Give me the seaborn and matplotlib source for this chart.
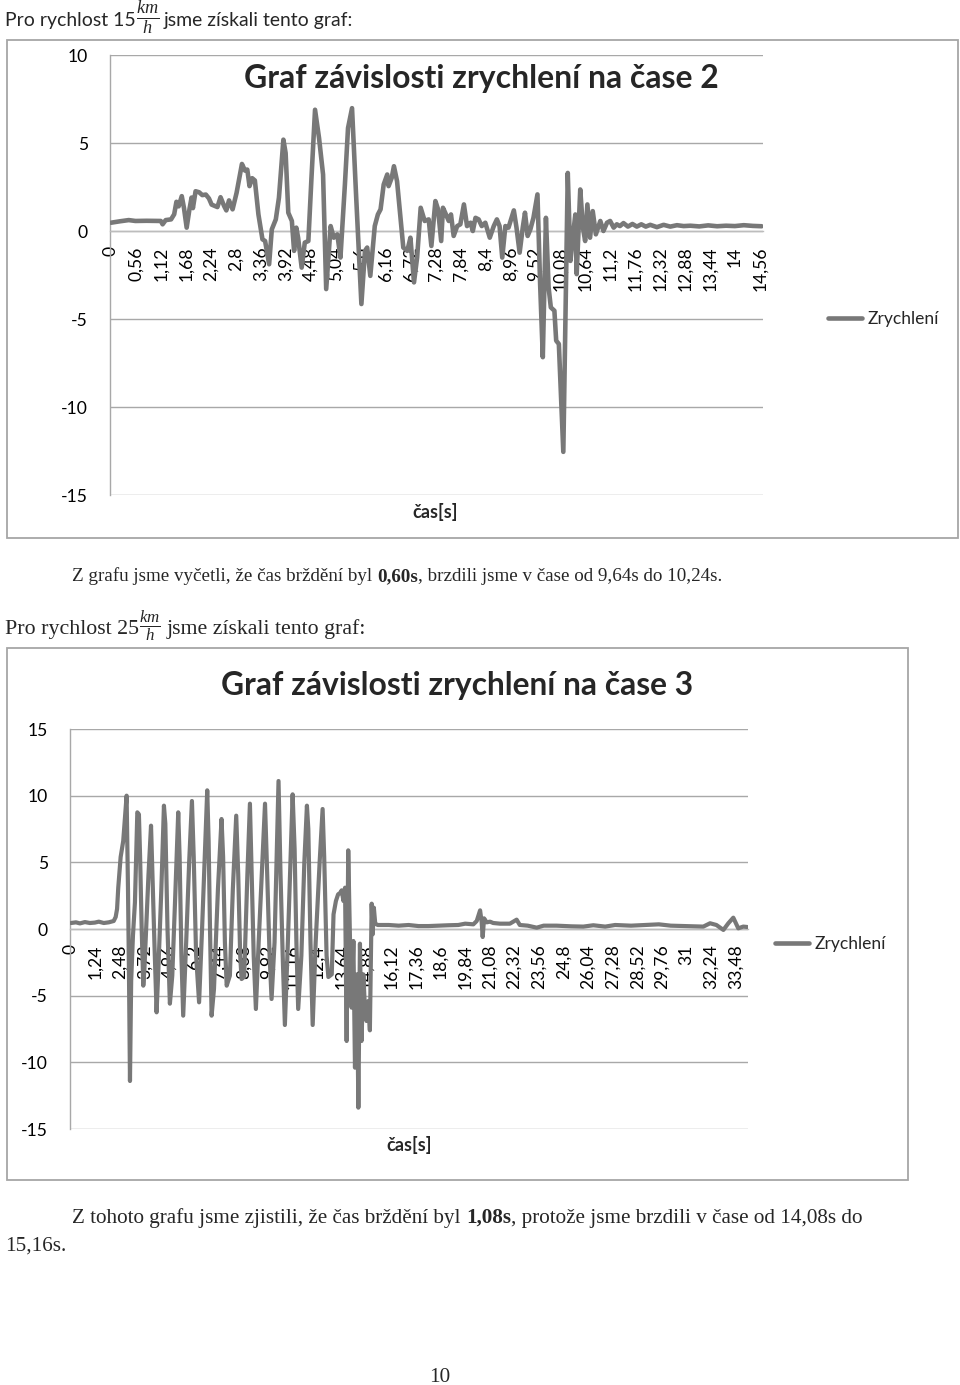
import matplotlib
matplotlib.use("Agg")
import numpy as np
import pandas as pd
import seaborn as sns
import matplotlib.pyplot as plt
from matplotlib.ticker import MultipleLocator, FixedLocator, FixedFormatter
from matplotlib.patches import Rectangle
from matplotlib.lines import Line2D

# ---------------- data: chart 1 (15 km/h) ----------------
time1 = [0.00, 0.20, 0.40, 0.55, 0.80, 1.00, 1.12, 1.16, 1.23, 1.35, 1.42, 1.47, 1.52, 1.59, 1.64,
         1.70, 1.76, 1.81, 1.84, 1.90, 1.98, 2.05, 2.13, 2.20, 2.26, 2.39, 2.46, 2.54, 2.59, 2.65,
         2.73, 2.82, 2.94, 3.01, 3.06, 3.11, 3.17, 3.23, 3.31, 3.40, 3.46, 3.55, 3.61, 3.70, 3.77,
         3.87, 3.92, 3.98, 4.06, 4.11, 4.16, 4.20, 4.28, 4.35, 4.43, 4.50, 4.58, 4.67, 4.76, 4.83,
         4.93, 5.00, 5.08, 5.15, 5.25, 5.32, 5.41, 5.50, 5.62, 5.70, 5.75, 5.82, 5.92, 5.99, 6.05,
         6.12, 6.20, 6.23, 6.30, 6.35, 6.42, 6.50, 6.56, 6.65, 6.72, 6.80, 6.87, 6.95, 7.04, 7.13,
         7.19, 7.28, 7.34, 7.41, 7.45, 7.50, 7.58, 7.63, 7.69, 7.77, 7.84, 7.92, 7.99, 8.07, 8.12,
         8.18, 8.25, 8.32, 8.40, 8.50, 8.59, 8.66, 8.72, 8.78, 8.85, 8.92, 8.99, 9.04, 9.10, 9.17,
         9.24, 9.29, 9.35, 9.41, 9.48, 9.57, 9.63, 9.69, 9.76, 9.82, 9.87, 9.95, 9.99, 10.05, 10.15,
         10.25, 10.31, 10.37, 10.42, 10.45, 10.53, 10.59, 10.64, 10.69, 10.75, 10.81, 10.88, 10.98,
         11.05, 11.13, 11.20, 11.28, 11.35, 11.42, 11.50, 11.60, 11.70, 11.80, 11.90, 12.00, 12.10,
         12.25, 12.40, 12.55, 12.70, 12.85, 13.00, 13.20, 13.40, 13.60, 13.80, 14.00, 14.20, 14.40,
         14.60]
accel1 = [0.47, 0.55, 0.62, 0.57, 0.58, 0.57, 0.57, 0.38, 0.62, 0.66, 0.95, 1.66, 1.40, 1.98, 1.30,
          0.19, 1.20, 1.90, 1.30, 2.26, 2.20, 2.04, 2.07, 1.85, 1.50, 1.36, 1.92, 1.42, 1.17, 1.74,
          1.23, 2.17, 3.81, 3.43, 3.49, 2.55, 3.00, 2.87, 0.94, -0.47, -0.57, -1.89, 0.09, 0.66, 1.89,
          5.19, 4.43, 1.04, 0.57, -1.13, 0.19, -0.38, -2.08, -0.66, -0.57, 3.02, 6.89, 5.28, 3.21, -3.30,
          0.28, -0.38, -0.19, -1.51, 2.64, 5.85, 6.98, 2.08, -4.15, -1.13, -0.94, -2.55, 0.28, 0.94, 1.23,
          2.64, 3.21, 2.55, 3.02, 3.68, 2.83, 0.66, -0.94, -1.13, -0.38, -2.92, -1.51, 1.32, 0.57, 0.66,
          -0.85, 1.70, 1.23, -0.57, 1.32, 1.04, 0.57, 0.94, -0.28, 0.28, 0.38, 1.51, 0.28, 0.47, 0.00,
          0.75, 0.66, 0.28, 0.47, -0.38, 0.28, 0.66, 0.28, -1.51, 0.28, 0.19, 0.75, 1.17, 0.19, -1.23,
          0.19, 1.04, -0.28, 0.09, 0.75, 2.08, -3.02, -7.17, 0.75, -3.21, -4.34, -4.53, -6.23, -6.42, -12.55,
          3.30, -1.70, -0.19, 0.94, -2.45, 2.36, 0.19, -0.57, 1.51, -0.38, 1.13, -0.19, 0.57,
          0.00, 0.47, 0.57, 0.19, 0.38, 0.28, 0.45, 0.25, 0.40, 0.25, 0.38, 0.25, 0.35,
          0.22, 0.35, 0.25, 0.33, 0.28, 0.30, 0.26, 0.32, 0.27, 0.30, 0.28, 0.33, 0.29,
          0.27]
xlabels1 = ["0", "0,56", "1,12", "1,68", "2,24", "2,8", "3,36", "3,92", "4,48", "5,04", "5,6",
            "6,16", "6,72", "7,28", "7,84", "8,4", "8,96", "9,52", "10,08", "10,64", "11,2",
            "11,76", "12,32", "12,88", "13,44", "14", "14,56"]
yticks1 = [-15, -10, -5, 0, 5, 10]

# ---------------- data: chart 2 (25 km/h) ----------------
time2 = [0.00, 0.25, 0.45, 0.70, 0.95, 1.20, 1.40, 1.65, 1.90, 2.15, 2.25, 2.32, 2.38, 2.50, 2.63,
         2.80, 2.87, 2.92, 2.97, 3.03, 3.12, 3.22, 3.34, 3.42, 3.48, 3.56, 3.64, 3.70, 3.80, 3.90,
         4.03, 4.10, 4.20, 4.31, 4.40, 4.55, 4.68, 4.75, 4.86, 4.98, 5.10, 5.25, 5.40, 5.47, 5.56,
         5.65, 5.80, 5.95, 6.09, 6.18, 6.30, 6.45, 6.60, 6.75, 6.86, 6.93, 7.00, 7.08, 7.20, 7.40,
         7.58, 7.66, 7.75, 7.84, 8.00, 8.15, 8.32, 8.42, 8.52, 8.59, 8.72, 8.88, 9.01, 9.10, 9.20,
         9.31, 9.45, 9.62, 9.77, 9.88, 10.00, 10.10, 10.25, 10.34, 10.45, 10.55, 10.66, 10.77, 10.92,
         11.05, 11.16, 11.26, 11.35, 11.44, 11.60, 11.75, 11.88, 11.95, 12.06, 12.17, 12.32, 12.52,
         12.67, 12.75, 12.87, 12.96, 13.13, 13.22, 13.34, 13.45, 13.55, 13.63, 13.72, 13.80, 13.88,
         13.96, 14.05, 14.13, 14.22, 14.30, 14.40, 14.47, 14.55, 14.63, 14.72, 14.80, 14.88, 14.97,
         15.05, 15.14, 15.19, 15.25, 15.32, 15.45, 16.00, 16.50, 17.00, 17.50, 18.00, 18.50, 19.00,
         19.50, 19.85, 20.26, 20.43, 20.60, 20.68, 20.73, 20.80, 20.93, 21.10, 21.26, 21.60, 22.10,
         22.44, 22.60, 23.00, 23.45, 23.80, 24.45, 25.20, 25.80, 26.30, 26.90, 27.40, 28.20, 28.90,
         29.60, 30.20, 30.90, 31.84, 32.18, 32.50, 32.85, 33.10, 33.35, 33.60, 33.85, 34.05]
accel2 = [0.45, 0.50, 0.42, 0.52, 0.45, 0.48, 0.55, 0.45, 0.50, 0.60, 0.90, 1.50, 3.10, 5.40, 6.60,
          10.00, 3.00, -3.40, -11.40, -3.90, -0.50, 2.00, 8.75, 8.60, 5.40, 0.00, -4.25, -2.90, 0.50, 4.00,
          7.75, 4.10, -1.00, -6.25, -3.00, 3.00, 9.25, 7.90, 0.00, -5.60, -3.50, 2.50, 8.75, 5.40, -2.00,
          -6.50, -1.00, 5.00, 9.60, 5.40, -2.00, -5.50, 0.00, 6.00, 10.40, 6.60, 0.00, -6.50, -4.50, 3.00,
          8.25, 5.40, -1.00, -4.25, -3.50, 3.00, 8.50, 4.10, -2.00, -3.75, -3.60, 4.00, 9.40, 4.10, -2.00,
          -6.00, -1.00, 4.50, 9.40, 4.10, -2.00, -5.25, -1.00, 4.50, 11.10, 4.10, -2.00, -7.20, -1.00,
          5.00, 10.10, 6.00, -1.00, -6.00, -2.00, 5.00, 9.25, 7.50, -1.00, -7.20, -1.00, 5.00,
          9.00, 5.40, -2.00, -3.60, -3.40, 1.10, 2.10, 2.60, 2.70, 2.90, 2.10, 3.10, -8.40,
          5.90, -0.90, -5.90, -0.90, -10.40, -3.40, -13.40, -1.10, -8.40, -3.40, -5.90, -6.90, -5.40,
          -7.60, 1.90, -0.40, 1.60, 0.40, 0.30, 0.30, 0.25, 0.30, 0.22, 0.22, 0.25, 0.28,
          0.30, 0.40, 0.35, 0.60, 1.40, 0.50, -0.60, 0.80, 0.50, 0.55, 0.45, 0.40, 0.40,
          0.70, 0.30, 0.25, 0.10, 0.25, 0.25, 0.20, 0.18, 0.28, 0.18, 0.30, 0.25, 0.30,
          0.35, 0.25, 0.22, 0.18, 0.43, 0.30, -0.07, 0.43, 0.85, 0.05, 0.18, 0.15]
xlabels2 = ["0", "1,24", "2,48", "3,72", "4,96", "6,2", "7,44", "8,68", "9,92", "11,16", "12,4",
            "13,64", "14,88", "16,12", "17,36", "18,6", "19,84", "21,08", "22,32", "23,56", "24,8",
            "26,04", "27,28", "28,52", "29,76", "31", "32,24", "33,48"]
yticks2 = [-15, -10, -5, 0, 5, 10, 15]

series_name = "Zrychlení"
title1 = "Graf závislosti zrychlení na čase 2"
title2 = "Graf závislosti zrychlení na čase 3"
xlabel = "čas[s]"

# ---------------- style ----------------
sns.set_style("white")
plt.rcParams["font.family"] = ["Lato", "DejaVu Sans"]
plt.rcParams["mathtext.fontset"] = "custom"
plt.rcParams["mathtext.it"] = "Liberation Serif:italic"
plt.rcParams["mathtext.rm"] = "Liberation Serif"
plt.rcParams["mathtext.bf"] = "Liberation Serif:bold"

LINE_C = "#787878"
GRID_C = "#a8a8a8"
BAND_C = "#bdbdbd"
W, H = 960, 1385
fig = plt.figure(figsize=(W / 100, H / 100), dpi=100)
fig.patch.set_facecolor("white")
R = fig.canvas.get_renderer()
SERIF = {"family": ["Liberation Serif", "DejaVu Serif"]}


def ax_at(l, t, r, b):
    return fig.add_axes([l / W, 1 - b / H, (r - l) / W, (b - t) / H])


def line_text(pieces, x, y, size, target=None, align="left"):
    """pieces: (text, props, space_before[, size factor]). x,y px from top-left; y = baseline."""
    def make(sz):
        objs, gaps = [], []
        for pc in pieces:
            s, p, sp = pc[:3]
            f = pc[3] if len(pc) > 3 else 1.0
            o = fig.text(0, 0, s, fontsize=sz * f, va="baseline", ha="left", **p)
            objs.append(o)
            g = 0
            if sp:
                a = fig.text(0, 0, "x x", fontsize=sz, **p)
                b = fig.text(0, 0, "xx", fontsize=sz, **p)
                g = a.get_window_extent(R).width - b.get_window_extent(R).width
                a.remove(); b.remove()
            gaps.append(g)
        ws = [o.get_window_extent(R).width for o in objs]
        return objs, gaps, ws
    objs, gaps, ws = make(size)
    if target:
        tot = sum(ws) + sum(gaps)
        for o in objs:
            o.remove()
        size = size * target / tot
        objs, gaps, ws = make(size)
    tot = sum(ws) + sum(gaps)
    cx = x if align == "left" else x - tot / 2
    for o, g, w in zip(objs, gaps, ws):
        cx += g
        o.set_position((cx / W, 1 - y / H))
        cx += w
    return size


def frame(l, t, r, b):
    fig.add_artist(Rectangle((l / W, 1 - b / H), (r - l) / W, (b - t) / H,
                             transform=fig.transFigure, fill=False,
                             ec="#a6a6a6", lw=1.3))


def style_chart(ax, labels, yt, xlim):
    ax.set_xlim(*xlim)
    ax.set_ylim(yt[0], yt[-1])
    pos = [float(s.replace(",", ".")) for s in labels]
    ax.xaxis.set_major_locator(FixedLocator(pos))
    ax.xaxis.set_major_formatter(FixedFormatter(labels))
    ax.xaxis.set_minor_locator(MultipleLocator(0.04))
    ax.set_yticks(yt)
    ax.set_yticklabels([str(v) for v in yt])
    for s in ["top", "right"]:
        ax.spines[s].set_visible(False)
    ax.spines["left"].set_color(GRID_C)
    ax.spines["left"].set_linewidth(1.0)
    ax.spines["bottom"].set_position(("data", 0))
    ax.spines["bottom"].set_color(BAND_C)
    ax.spines["bottom"].set_linewidth(1.0)
    ax.tick_params(axis="x", which="both", direction="out", length=6, width=0.7,
                   color=BAND_C)
    ax.tick_params(axis="x", which="major", labelsize=12.6, labelrotation=90, pad=5,
                   labelcolor="black")
    ax.tick_params(axis="y", which="major", direction="out", length=7, width=1,
                   color=GRID_C, labelsize=12.6, pad=9, labelcolor="black")
    ax.yaxis.grid(True, color=GRID_C, lw=1.0)
    ax.xaxis.grid(False)
    ax.set_axisbelow(True)
    ax.set_xlabel("")
    ax.set_ylabel("")
    ax.patch.set_alpha(0)


def legend(ax, x, y):
    h = Line2D([], [], color=LINE_C, lw=3.3)
    ax.legend(handles=[h], labels=[series_name], loc="center left",
              bbox_to_anchor=(x / W, 1 - y / H), bbox_transform=fig.transFigure,
              frameon=False, borderpad=0, borderaxespad=0, fontsize=12.6,
              handlelength=34 / 17.5, handletextpad=6 / 17.5)


# ---------------- page texts ----------------
line_text([("Pro rychlost 15", {}, False), (r"$\frac{km}{h}$", {}, False, 1.35),
           ("jsme získali tento graf:", {}, True)], 5, 26, 13, target=347)

frame(7, 40, 958, 538)
ax1 = ax_at(110, 55, 763, 495)
df1 = pd.DataFrame({"t": time1, "a": accel1})
sns.lineplot(data=df1, x="t", y="a", ax=ax1, color=LINE_C, lw=3.3, estimator=None,
             sort=False, zorder=4, solid_joinstyle="round")
style_chart(ax1, xlabels1, yticks1, (-0.02, 14.63))
legend(ax1, 828, 319)
line_text([(title1, {"fontweight": "bold"}, False)], 481, 88, 20, target=473, align="center")
line_text([(xlabel, {"fontweight": "bold"}, False)], 435, 518, 12, target=45, align="center")

body = line_text([("Z tohoto grafu jsme zjistili, že čas brždění byl", SERIF, False),
                  ("1,08s", dict(SERIF, fontweight="bold"), True),
                  (", protože jsme brzdili v čase od 14,08s do", SERIF, False)],
                 72, 1223, 12, target=790)
line_text([("Z grafu jsme vyčetli, že čas brždění byl", SERIF, False),
           ("0,60s", dict(SERIF, fontweight="bold"), True),
           (", brzdili jsme v čase od 9,64s do 10,24s.", SERIF, False)],
          72, 581, body * 0.9)
line_text([("Pro rychlost 25", SERIF, False), (r"$\frac{km}{h}$", {}, False, 1.1),
           ("jsme získali tento graf:", SERIF, True)], 5, 634, 12, target=362)

frame(7, 648, 908, 1180)
ax2 = ax_at(70, 729, 748, 1129)
df2 = pd.DataFrame({"t": time2, "a": accel2})
sns.lineplot(data=df2, x="t", y="a", ax=ax2, color=LINE_C, lw=3.0, estimator=None,
             sort=False, zorder=4, solid_joinstyle="round")
style_chart(ax2, xlabels2, yticks2, (-0.05, 34.09))
legend(ax2, 775, 944)
line_text([(title2, {"fontweight": "bold"}, False)], 457, 695, 20, target=472, align="center")
line_text([(xlabel, {"fontweight": "bold"}, False)], 409, 1151, 12, target=45, align="center")

line_text([("15,16s.", SERIF, False)], 5, 1251, body)
line_text([("10", SERIF, False)], 440, 1382, body, align="center")

fig.savefig("out.png", dpi=100, facecolor="white")
